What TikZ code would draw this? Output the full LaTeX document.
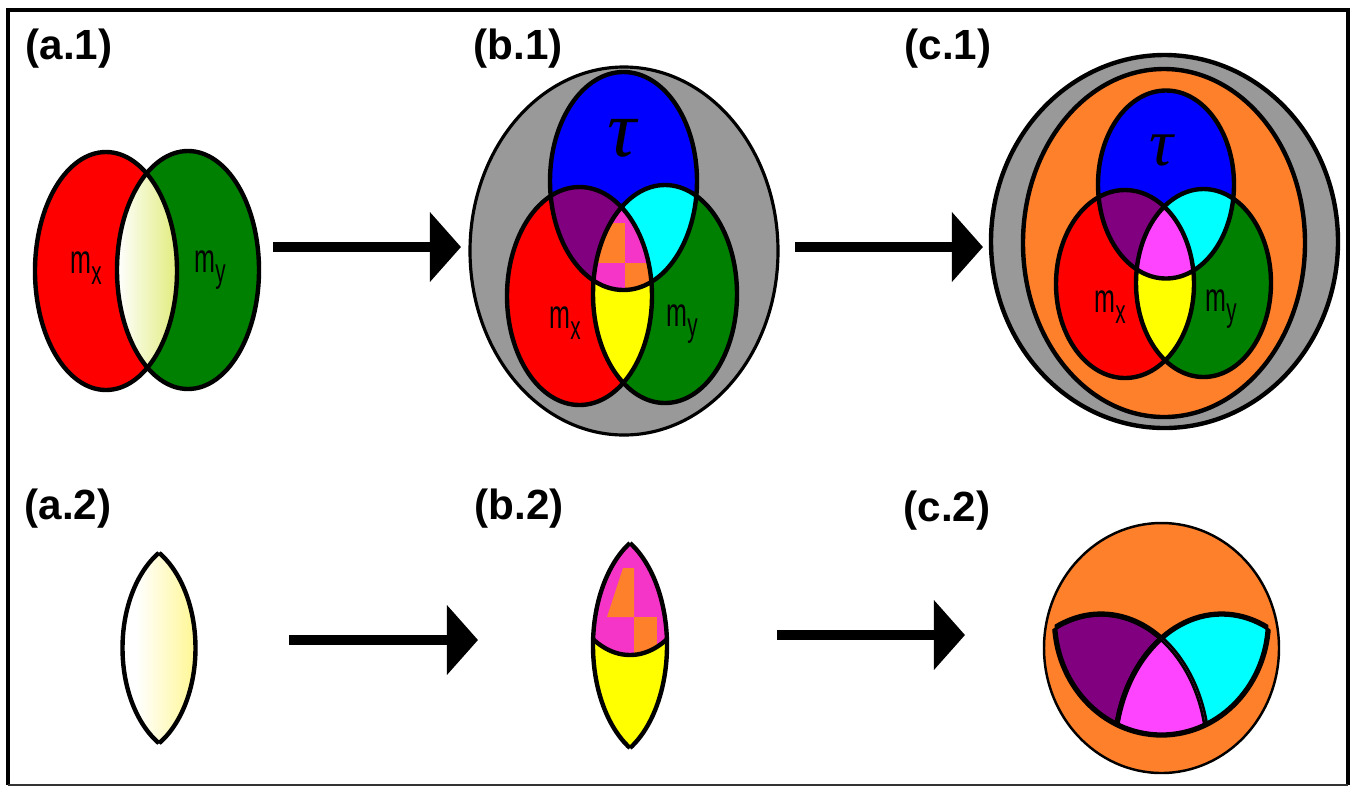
\documentclass[tikz,border=0pt]{standalone}
\usepackage{graphicx}
\usepackage{fontspec}
\setmainfont{Liberation Sans}
\newfontfamily\serifgreco{Liberation Serif}
\usetikzlibrary{arrows.meta}
\definecolor{grigio}{RGB}{153,153,153}
\definecolor{arancio}{RGB}{255,128,42}
\definecolor{viola}{RGB}{128,0,128}
\definecolor{ciano}{RGB}{0,255,255}
\definecolor{verde}{RGB}{0,128,0}
\definecolor{gialla}{RGB}{255,255,0}
\definecolor{rosa}{RGB}{245,53,200}
\definecolor{fucsia}{RGB}{255,68,255}
\definecolor{giallino}{RGB}{215,230,80}
\definecolor{giallopallido}{RGB}{255,245,125}
\newcommand{\emme}[1]{\scalebox{0.62}[1]{\fontsize{11.5}{11.5}\selectfont m\raisebox{-0.26em}{\fontsize{9.5}{9.5}\selectfont #1}}}

\begin{document}
\begin{tikzpicture}[x=0.01cm,y=-0.01cm,
    bordo/.style={line width=1.25pt},
    bordosottile/.style={line width=0.9pt},
    bordospesso/.style={line width=1.5pt},
    freccia/.style={line width=0.1cm,-{Triangle[length=0.31cm,width=0.68cm]}},
    titolo/.style={font=\fontsize{12}{12}\selectfont\bfseries},
    lettera/.style={inner sep=0pt}]
        \useasboundingbox (0,0) rectangle (1351,787);
        %cornice
        \draw[line width=1.1pt] (8,785)--(8,10)--(1348,10)--(1348,785);
        \draw[line width=0.5pt,black!80] (8,785)--(1348,785);
        %titoli dei pannelli
        \node[titolo] (ta1) at (69,49) {(a.1)};
        \node[titolo] (tb1) at (518,49) {(b.1)};
        \node[titolo] (tc1) at (948,49) {(c.1)};
        \node[titolo] (ta2) at (68,509) {(a.2)};
        \node[titolo] (tb2) at (519,509) {(b.2)};
        \node[titolo] (tc2) at (947,511) {(c.2)};
        %disegno a.1
        \fill[red] (106,271) ellipse [x radius=71, y radius=119];
        \fill[verde] (188,270) ellipse [x radius=71, y radius=119];
        \begin{scope}
            \clip (106,271) ellipse [x radius=71, y radius=119];
            \clip (188,270) ellipse [x radius=71, y radius=119];
            \fill[white] (100,140) rectangle (200,400);
            \shade[left color=white, right color=giallino] (117,140) rectangle (197,400);
        \end{scope}
        \draw[bordo] (106,271) ellipse [x radius=71, y radius=119];
        \draw[bordo] (188,270) ellipse [x radius=71, y radius=119];
        \node[lettera] (mxa) at (86,268) {\emme{x}};
        \node[lettera] (mya) at (210,270) {\emme{y}};
        %disegno b.1
        \filldraw[fill=grigio, bordosottile] (624,251) ellipse [x radius=154, y radius=184];
        \fill[blue] (623.5,181) ellipse [x radius=73.5, y radius=109];
        \fill[red] (579.5,296) ellipse [x radius=72.5, y radius=109];
        \fill[verde] (665,294) ellipse [x radius=72, y radius=109];
        \begin{scope}
            \clip (623.5,181) ellipse [x radius=73.5, y radius=109];
            \fill[viola] (579.5,296) ellipse [x radius=72.5, y radius=109];
            \fill[ciano] (665,294) ellipse [x radius=72, y radius=109];
        \end{scope}
        \begin{scope}
            \clip (579.5,296) ellipse [x radius=72.5, y radius=109];
            \fill[gialla] (665,294) ellipse [x radius=72, y radius=109];
            \clip (623.5,181) ellipse [x radius=73.5, y radius=109];
            \fill[rosa] (665,294) ellipse [x radius=72, y radius=109];
            \clip (665,294) ellipse [x radius=72, y radius=109];
            \fill[arancio] (580,223) rectangle (625,263);
            \fill[arancio] (625,263) rectangle (670,300);
        \end{scope}
        \draw[bordo] (623.5,181) ellipse [x radius=73.5, y radius=109];
        \draw[bordo] (579.5,296) ellipse [x radius=72.5, y radius=109];
        \draw[bordo] (665,294) ellipse [x radius=72, y radius=109];
        \node[lettera] (taub) at (622,138) {\fontsize{23}{23}\serifgreco\itshape τ};
        \node[lettera] (mxb) at (565,323) {\emme{x}};
        \node[lettera] (myb) at (682,324) {\emme{y}};
        %disegno c.1
        \filldraw[fill=grigio, bordo] (1164.5,241.5) ellipse [x radius=173.5, y radius=186.5];
        \filldraw[fill=arancio, bordo] (1164,243) ellipse [x radius=141, y radius=174];
        \fill[blue] (1166,184.5) ellipse [x radius=68, y radius=94];
        \fill[red] (1125,284) ellipse [x radius=69, y radius=94];
        \fill[verde] (1203.5,283) ellipse [x radius=67.5, y radius=94];
        \begin{scope}
            \clip (1166,184.5) ellipse [x radius=68, y radius=94];
            \fill[viola] (1125,284) ellipse [x radius=69, y radius=94];
            \fill[ciano] (1203.5,283) ellipse [x radius=67.5, y radius=94];
        \end{scope}
        \begin{scope}
            \clip (1125,284) ellipse [x radius=69, y radius=94];
            \fill[gialla] (1203.5,283) ellipse [x radius=67.5, y radius=94];
            \clip (1166,184.5) ellipse [x radius=68, y radius=94];
            \fill[fucsia] (1203.5,283) ellipse [x radius=67.5, y radius=94];
        \end{scope}
        \draw[bordo] (1166,184.5) ellipse [x radius=68, y radius=94];
        \draw[bordo] (1125,284) ellipse [x radius=69, y radius=94];
        \draw[bordo] (1203.5,283) ellipse [x radius=67.5, y radius=94];
        \node[lettera] (tauc) at (1161,150) {\fontsize{19}{19}\serifgreco\itshape τ};
        \node[lettera] (mxc) at (1110,307) {\emme{x}};
        \node[lettera] (myc) at (1221,309) {\emme{y}};
        %disegno a.2
        \begin{scope}
            \clip (124.5,648) ellipse [x radius=71, y radius=109];
            \clip (193.5,648) ellipse [x radius=71, y radius=109];
            \shade[left color=white, right color=giallopallido] (136,540) rectangle (208,760);
        \end{scope}
        \begin{scope}
            \clip (124.5,648) ellipse [x radius=71, y radius=109];
            \draw[bordo] (193.5,648) ellipse [x radius=71, y radius=109];
        \end{scope}
        \begin{scope}
            \clip (193.5,648) ellipse [x radius=71, y radius=109];
            \draw[bordo] (124.5,648) ellipse [x radius=71, y radius=109];
        \end{scope}
        %disegno b.2
        \begin{scope}
            \clip (595,645.5) ellipse [x radius=72, y radius=117.3];
            \clip (665,645.5) ellipse [x radius=72, y radius=117.3];
            \fill[gialla] (580,530) rectangle (680,760);
            \clip (630,538) ellipse [x radius=73.5, y radius=117];
            \fill[rosa] (580,530) rectangle (680,760);
            \fill[arancio] (623,568)--(634,568)--(634,617)--(607,617)--cycle;
            \fill[arancio] (634,617) rectangle (657,660);
        \end{scope}
        \begin{scope}
            \clip (595,645.5) ellipse [x radius=72, y radius=117.3];
            \draw[bordo] (665,645.5) ellipse [x radius=72, y radius=117.3];
        \end{scope}
        \begin{scope}
            \clip (665,645.5) ellipse [x radius=72, y radius=117.3];
            \draw[bordo] (595,645.5) ellipse [x radius=72, y radius=117.3];
            \clip (595,645.5) ellipse [x radius=72, y radius=117.3];
            \draw[bordo] (630,538) ellipse [x radius=73.5, y radius=117];
        \end{scope}
        %disegno c.2
        \filldraw[fill=arancio, line width=0.7pt] (1161.5,648) ellipse [x radius=117.5, y radius=125];
        \begin{scope}
            \clip (1161.5,620) ellipse [x radius=107, y radius=115];
            \fill[viola] (1101,754) ellipse [x radius=107, y radius=140];
            \fill[ciano] (1221.6,754) ellipse [x radius=107, y radius=140];
            \draw[bordospesso] (1101,754) ellipse [x radius=107, y radius=140];
            \draw[bordospesso] (1221.6,754) ellipse [x radius=107, y radius=140];
            \clip (1101,754) ellipse [x radius=107, y radius=140];
            \fill[fucsia] (1221.6,754) ellipse [x radius=107, y radius=140];
            \draw[bordospesso] (1221.6,754) ellipse [x radius=107, y radius=140];
            \draw[bordospesso] (1101,754) ellipse [x radius=107, y radius=140];
        \end{scope}
        \begin{scope}
            \clip (1101,754) ellipse [x radius=107, y radius=140] (1221.6,754) ellipse [x radius=107, y radius=140];
            \draw[bordospesso] (1161.5,620) ellipse [x radius=107, y radius=115];
        \end{scope}
        %frecce
        \coordinate (da1) at (273,247);
        \coordinate (a1) at (461,247);
        \coordinate (da2) at (795,247);
        \coordinate (a2) at (983,247);
        \coordinate (da3) at (289,640);
        \coordinate (a3) at (478,640);
        \coordinate (da4) at (777,635);
        \coordinate (a4) at (965,635);
        \draw[freccia] (da1)--(a1);
        \draw[freccia] (da2)--(a2);
        \draw[freccia] (da3)--(a3);
        \draw[freccia] (da4)--(a4);
\end{tikzpicture}
\end{document}
